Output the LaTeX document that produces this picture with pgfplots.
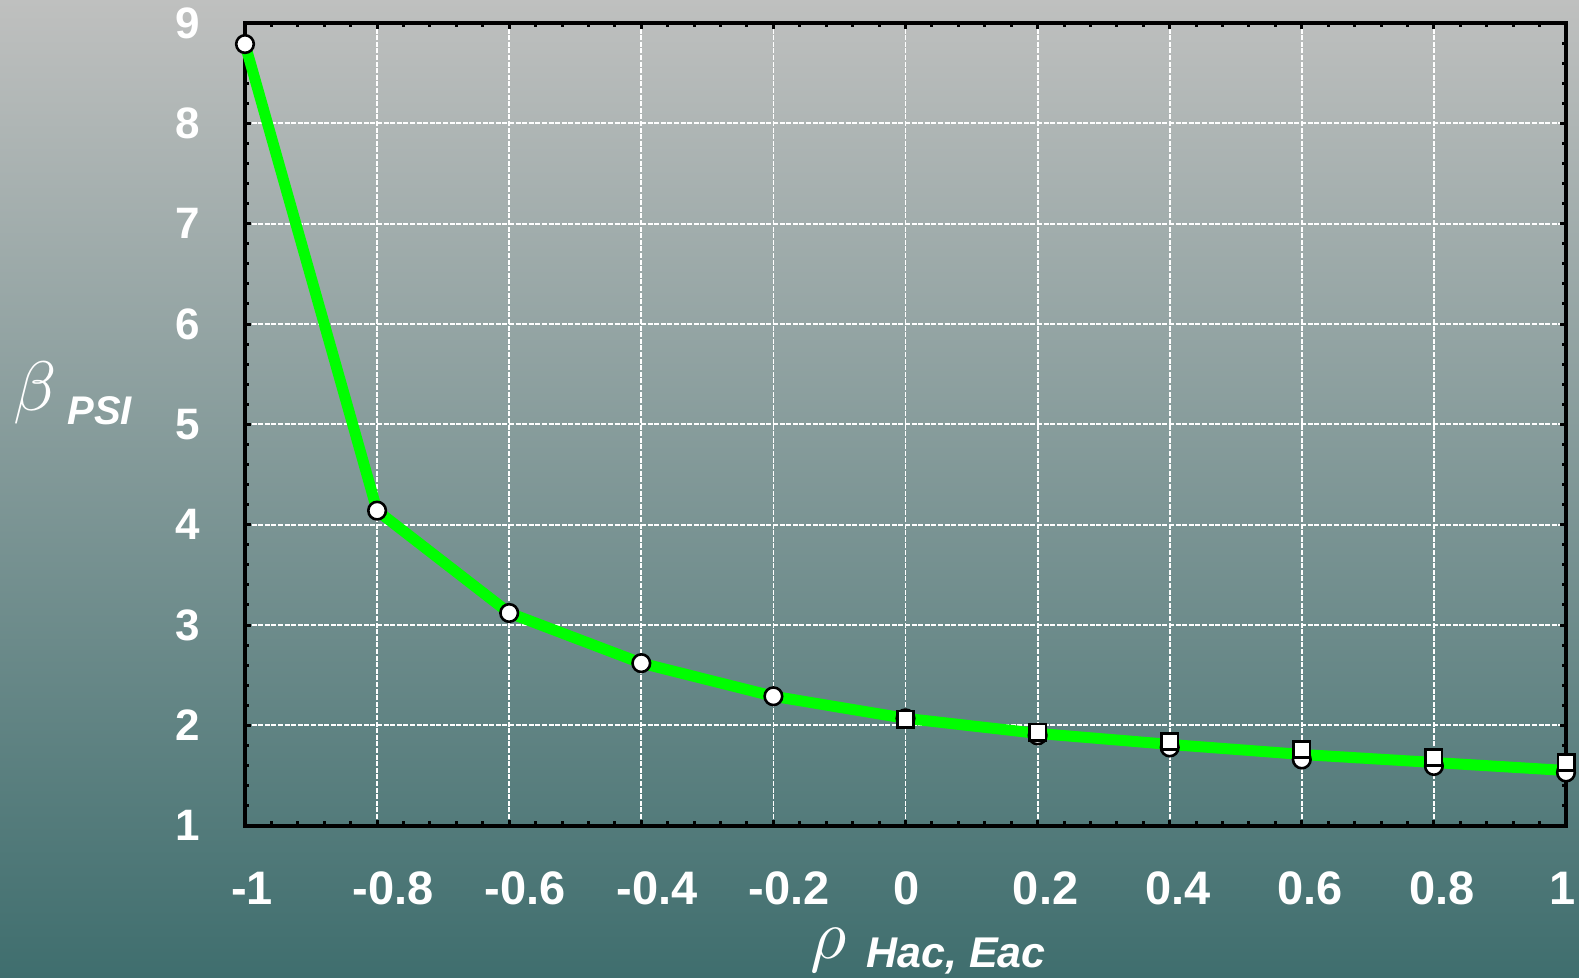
\documentclass[border=0pt]{standalone}
\usepackage{pgfplots}
\pgfplotsset{compat=1.18}
\usepackage{graphicx}
\usepackage{fontspec}
\setmainfont{Liberation Sans}
\definecolor{bgtop}{RGB}{191,192,191}
\definecolor{bgmid}{RGB}{152,164,162}
\definecolor{bgbot}{RGB}{63,110,110}
\definecolor{lgreen}{RGB}{0,255,0}
\newcommand\xl[2]{\kern#1\relax#2\kern-#1\relax}
\begin{document}
\begin{tikzpicture}
\shade[top color=bgtop, middle color=bgmid, bottom color=bgbot] (0,0) rectangle (789.5pt,489pt);
\begin{axis}[
  at={(122.5pt,76.15pt)}, anchor=south west, scale only axis,
  width=660.5pt, height=401.35pt,
  xmin=-1, xmax=1, ymin=1, ymax=9,
  xtick={-1,-0.8,-0.6,-0.4,-0.2,0,0.2,0.4,0.6,0.8,1},
  xticklabels={\xl{3.5pt}{-1},\xl{8pt}{-0.8},\xl{8pt}{-0.6},\xl{8pt}{-0.4},\xl{8pt}{-0.2},\xl{0.5pt}{0},\xl{4pt}{0.2},\xl{4pt}{0.4},\xl{4pt}{0.6},\xl{4pt}{0.8},\xl{-1.5pt}{1}},
  ytick={1,2,3,4,5,6,7,8,9},
  yticklabels={1,2,3,4,5,6,7,8,9},
  minor x tick num=4, minor y tick num=4,
  tick align=inside,
  major tick length=3pt, minor tick length=2.2pt,
  tick style={black, line width=1.5pt},
  grid=major,
  major grid style={white, line width=0.9pt, dash pattern=on 2.5pt off 0.8pt},
  axis line style={line width=2pt, black},
  xticklabel style={font=\fontsize{23.5}{24}\selectfont\bfseries, text=white, inner sep=0pt, anchor=north, yshift=-23pt},
  yticklabel style={font=\fontsize{22}{24}\selectfont\bfseries, text=white, inner sep=0pt, anchor=east, xshift=-22.5pt},
  clip=false,
]
\addplot[lgreen, line width=5.5pt, no marks] coordinates {
  (-1,8.79) (-0.8,4.14) (-0.6,3.12) (-0.4,2.62) (-0.2,2.29) (0,2.07)
  (0.2,1.92) (0.4,1.81) (0.6,1.71) (0.8,1.63) (1,1.55)};
\addplot[only marks, mark=*, mark size=4.4pt, mark options={fill=white, draw=black, line width=1.3pt}] coordinates {
  (-1,8.79) (-0.8,4.14) (-0.6,3.12) (-0.4,2.62) (-0.2,2.29) (0,2.07)
  (0.2,1.90) (0.4,1.78) (0.6,1.66) (0.8,1.595) (1,1.53)};
\addplot[only marks, mark=square*, mark size=4.1pt, mark options={fill=white, draw=black, line width=1.3pt}] coordinates {
  (0,2.06) (0.2,1.93) (0.4,1.84) (0.6,1.76) (0.8,1.68) (1,1.63)};
\end{axis}
\node[anchor=base west, inner sep=0pt, text=white] at (6.5pt,283.5pt) {\scalebox{3.5}{$\beta$}};
\node[anchor=base west, inner sep=0pt, text=white, font=\fontsize{20}{21}\selectfont\bfseries\itshape] at (33.5pt,276.5pt) {PSI};
\node[anchor=base west, inner sep=0pt, text=white] at (405pt,9.5pt) {\scalebox{3.5}{$\rho$}};
\node[anchor=base west, inner sep=0pt, text=white, font=\fontsize{21.5}{22}\selectfont\bfseries\itshape] at (433pt,5pt) {Hac, Eac};
\pgfresetboundingbox
\useasboundingbox (0,0) rectangle (789.5pt,489pt);
\end{tikzpicture}
\end{document}
